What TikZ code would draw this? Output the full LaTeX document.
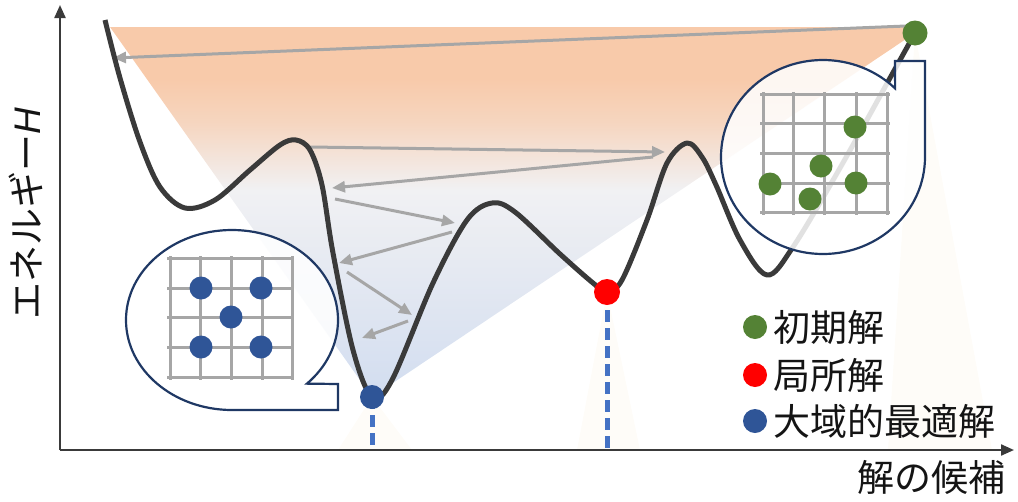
\documentclass[tikz,border=0pt]{standalone}
\usepackage{fontspec}
\newfontfamily\jp{Noto Sans CJK JP}
\newfontfamily\latin{Liberation Sans}
\usetikzlibrary{arrows.meta}
\definecolor{gorange}{RGB}{248,202,170}
\definecolor{gmid}{RGB}{241,241,243}
\definecolor{gblue}{RGB}{210,221,240}
\definecolor{curvecol}{RGB}{58,58,58}
\definecolor{arrcol}{RGB}{166,166,166}
\definecolor{navy}{RGB}{31,56,100}
\definecolor{dgreen}{RGB}{84,130,53}
\definecolor{dblue}{RGB}{47,85,151}
\definecolor{dashblue}{RGB}{68,114,196}
\definecolor{cone}{RGB}{254,252,248}
\definecolor{txt}{RGB}{20,20,20}
\pgfdeclareverticalshading{landshade}{100bp}{color(0bp)=(gblue); color(25bp)=(gblue); color(53bp)=(gmid); color(62bp)=(gorange!70!gmid); color(68bp)=(gorange); color(100bp)=(gorange)}
\tikzset{
  axisline/.style={line width=2.2pt, draw=curvecol, -{Triangle[length=13pt,width=11pt]}},
  walk/.style={line width=3pt, draw=arrcol, -{Triangle[length=13pt,width=11pt]}},
  landscape/.style={line width=5pt, draw=curvecol, line join=round},
  callout/.style={line width=2.2pt, draw=navy, fill=white, fill opacity=0.85},
  gridline/.style={line width=3pt, draw=arrcol},
  dropline/.style={line width=5pt, draw=dashblue, dash pattern=on 12pt off 6pt},
  sol/.style={circle, inner sep=0pt, minimum size=#1},
  lbl/.style={font=\jp\fontsize{37}{40}\selectfont, text=txt, inner sep=0pt},
}
\begin{document}
\begin{tikzpicture}[x=1pt,y=-1pt]
\useasboundingbox (0,0) rectangle (1018,501);
% faint cones
\fill[cone] (372,397) -- (338,450) -- (412,450) -- cycle;
\fill[cone] (607,292) -- (577,450) -- (640,450) -- cycle;
\fill[cone] (915,33) -- (888,450) -- (992,450) -- cycle;
% gradient region
\shade[shading=landshade] (110,27) -- (912,27) -- (915,33) -- (372,397) -- cycle;
% named points
\coordinate (gs) at (915,33);
\coordinate (ls) at (607,292);
\coordinate (bs) at (372,397);
% axes
\coordinate (origin) at (60,450);
\coordinate (ytop) at (60,5);
\coordinate (xend) at (1014,450);
\draw[axisline] (origin) -- (ytop);
\draw[axisline] (origin) -- (xend);
% drop lines
\coordinate (bsfoot) at (372,448);
\coordinate (lsfoot) at (607,448);
\draw[dropline] (bs) -- (bsfoot);
\draw[dropline] (ls) -- (lsfoot);
% walk arrows
\coordinate (w0) at (906,26);
\coordinate (w1) at (113,58);
\coordinate (w2s) at (310,147);
\coordinate (w2) at (665,152);
\coordinate (w3s) at (653,157);
\coordinate (w3) at (332,188);
\coordinate (w4s) at (335,199);
\coordinate (w4) at (455,223);
\coordinate (w5s) at (452,232);
\coordinate (w5) at (339,263);
\coordinate (w6s) at (347,272);
\coordinate (w6) at (412,315);
\coordinate (w7s) at (408,321);
\coordinate (w7) at (362,338);
\draw[walk] (w0) -- (w1);
\draw[walk] (w2s) -- (w2);
\draw[walk] (w3s) -- (w3);
\draw[walk] (w4s) -- (w4);
\draw[walk] (w5s) -- (w5);
\draw[walk] (w6s) -- (w6);
\draw[walk] (w7s) -- (w7);
% energy landscape
\draw[landscape] plot[smooth, tension=0.55] coordinates {
 (105,20) (120,78) (140,142) (160,187) (185,208) (215,200) (250,170) (280,145) (296,140)
 (310,150) (322,185) (333,253) (353,350) (372,397)
 (392,380) (433,283) (467,220) (492,203) (515,212) (560,254) (593,283) (607,292)
 (622,280) (647,220) (667,163) (687,143) (702,157) (716,185) (740,240) (767,275)
 (793,247) (840,168) (890,78) (915,33)};
% left callout
\draw[callout] (232,410) arc[start angle=90, end angle=405, x radius=106, y radius=90] -- (338,384) -- (338,410) -- cycle;
\foreach \gx in {170,200,231,262,292} \draw[gridline] (\gx,256) -- (\gx,380);
\foreach \gy in {258,288,317,347,377} \draw[gridline] (167,\gy) -- (294,\gy);
\foreach \p in {(201,288),(261,288),(231,317),(201,347),(261,347)} \node[sol=23pt, fill=dblue] at \p {};
% right callout
\draw[callout] (925,157) arc[start angle=0, end angle=315, x radius=102, y radius=97] -- (895,61) -- (925,61) -- cycle;
\foreach \gx in {763,793,824,856,887} \draw[gridline] (\gx,92) -- (\gx,215);
\foreach \gy in {94,123,153,183,212} \draw[gridline] (760,\gy) -- (890,\gy);
\foreach \p in {(855,127),(821,166),(770,184),(856,183),(810,199)} \node[sol=23pt, fill=dgreen] at \p {};
% solution markers
\node[sol=25pt, fill=dgreen] (gsdot) at (gs) {};
\node[sol=26pt, fill=red] (lsdot) at (ls) {};
\node[sol=24pt, fill=dblue] (bsdot) at (bs) {};
% legend
\node[sol=24pt, fill=dgreen] (lg1) at (755,327) {};
\node[sol=24pt, fill=red] (lg2) at (755,375) {};
\node[sol=24pt, fill=dblue] (lg3) at (755,421) {};
\node[lbl, anchor=west] (t1) at (773,327) {初期解};
\node[lbl, anchor=west] (t2) at (773,375) {局所解};
\node[lbl, anchor=west] (t3) at (773,421) {大域的最適解};
% axis labels
\node[lbl] (xl) at (931,477) {解の候補};
\node[lbl, rotate=90] (yl) at (26,214) {エネルギー{\latin\itshape H}};
\end{tikzpicture}
\end{document}
